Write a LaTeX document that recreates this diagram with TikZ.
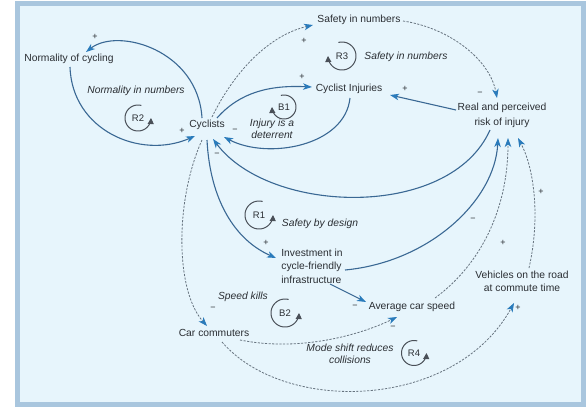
\documentclass[tikz,border=0pt]{standalone}
\usepackage{fontspec}
\setmainfont{Liberation Sans}
\usetikzlibrary{arrows.meta}

\definecolor{panel}{HTML}{E7F5FC}
\definecolor{rim}{HTML}{A9C6DE}
\definecolor{linkblue}{HTML}{3A6894}
\definecolor{tipblue}{HTML}{2A7BBB}
\definecolor{dashgrey}{HTML}{66737F}
\definecolor{loopgrey}{HTML}{4A5058}
\definecolor{ink}{HTML}{2A2E33}

\tikzset{
  lbl/.style={font=\fontsize{10.3}{13.5}\selectfont, text=ink, inner sep=1pt, align=center},
  note/.style={font=\fontsize{10.3}{11.7}\selectfont\itshape, text=ink, inner sep=1pt, align=center},
  sgn/.style={font=\fontsize{9}{9}\selectfont, text=ink, inner sep=0pt},
  looplbl/.style={font=\fontsize{9.5}{9.5}\selectfont, text=ink, inner sep=0pt},
  loopline/.style={draw=loopgrey, line width=1pt, -{Triangle[length=6pt,width=6pt,color=loopgrey]}},
  solidlink/.style={draw=linkblue, line width=1.1pt,
    -{Stealth[length=9pt,width=6.5pt,inset=2.5pt,color=tipblue]}},
  dashlink/.style={draw=dashgrey, line width=0.8pt, dash pattern=on 2.2pt off 1.4pt,
    -{Stealth[length=9pt,width=6.5pt,inset=2.5pt,color=tipblue]}},
}

% loop marker (y axis points down): anticlockwise on the page, arrow on the right pointing up
\newcommand{\loopright}[5]{%
  \node[looplbl] (#1) at (#2,#3) {#4};
  \draw[loopline] plot[domain=0:1, samples=40, smooth]
    ({#2+#5*cos(-75-285*\x)}, {#3+#5*sin(-75-285*\x)});}
% loop marker: clockwise on the page, arrow on the left pointing up
\newcommand{\loopleft}[5]{%
  \node[looplbl] (#1) at (#2,#3) {#4};
  \draw[loopline] plot[domain=0:1, samples=40, smooth]
    ({#2+#5*cos(-105+285*\x)}, {#3+#5*sin(-105+285*\x)});}

\begin{document}
\begin{tikzpicture}[x=1pt,y=-1pt]
\useasboundingbox (0,0) rectangle (586,407);
\fill[white] (0,0) rectangle (586,407);
\draw[rim, line width=5pt, fill=panel] (17.5,3.5) rectangle (583.5,404.5);

% variables
\node[lbl] (norm) at (69,59) {Normality of cycling};
\node[lbl] (cyc) at (207,125) {Cyclists};
\node[lbl] (sin) at (359,20) {Safety in numbers};
\node[lbl] (inj) at (349,89) {Cyclist Injuries};
\node[lbl] (risk) at (502,115.5) {Real and perceived\\[1pt]risk of injury};
\node[lbl, align=left] (inv) at (312,266) {Investment in\\cycle-friendly\\infrastructure};
\node[lbl] (avg) at (412,307) {Average car speed};
\node[lbl] (veh) at (522,281.5) {Vehicles on the road\\at commute time};
\node[lbl] (car) at (214,333) {Car commuters};

% loop names
\node[note] (nnum) at (136,91) {Normality in numbers};
\node[note] (snum) at (406,57) {Safety in numbers};
\node[note] (deter) at (272,129) {Injury is a\\deterrent};
\node[note] (design) at (320,224) {Safety by design};
\node[note] (kills) at (243,297) {Speed kills};
\node[note] (shift) at (350,353.5) {Mode shift reduces\\collisions};

% loop markers
\loopright{r2}{138}{118}{R2}{13}
\loopleft{b1}{284}{107}{B1}{12}
\loopleft{r3}{342}{56}{R3}{14}
\loopright{r1}{259}{215}{R1}{14}
\loopright{b2}{285}{313}{B2}{14}
\loopright{r4}{414}{353}{R4}{12.5}

% causal links
\draw[solidlink] ([shift={(-5,-7)}]cyc.center) .. controls (198,50) and (118,27) .. ([shift={(17,-7)}]norm.center);
\draw[solidlink] ([shift={(1,8)}]norm.center) .. controls (72,130) and (140,160) .. ([shift={(-12,11)}]cyc.center);
\draw[dashlink] ([shift={(5,-8)}]cyc.center) .. controls (235,70) and (270,35) .. ([shift={(-46,5)}]sin.center);
\draw[dashlink] ([shift={(44,1)}]sin.center) .. controls (450,28) and (490,60) .. ([shift={(-5,-17.5)}]risk.center);
\draw[solidlink] ([shift={(10,-7)}]cyc.center) .. controls (240,92) and (270,85) .. ([shift={(-37,-2)}]inj.center);
\draw[solidlink] ([shift={(1,9)}]inj.center) .. controls (345,146) and (268,160) .. ([shift={(17,12)}]cyc.center);
\draw[solidlink] ([shift={(-46,-5.5)}]risk.center) -- ([shift={(41,6)}]inj.center);
\draw[solidlink] ([shift={(-12,14.5)}]risk.center) .. controls (450,220) and (270,215) .. ([shift={(6,14)}]cyc.center);
\draw[solidlink] ([shift={(0,15)}]cyc.center) .. controls (210,200) and (235,240) .. ([shift={(-36,-8)}]inv.center);
\draw[solidlink] ([shift={(33,4)}]inv.center) .. controls (430,262) and (495,200) .. ([shift={(-4,22.5)}]risk.center);
\draw[solidlink] ([shift={(18,18)}]inv.center) -- ([shift={(-46,-5)}]avg.center);
\draw[dashlink] ([shift={(23,-9)}]avg.center) .. controls (480,265) and (508,210) .. ([shift={(6,22.5)}]risk.center);
\draw[dashlink] ([shift={(7,-13.5)}]veh.center) .. controls (540,220) and (535,170) .. ([shift={(16,22.5)}]risk.center);
\draw[dashlink] ([shift={(-5,15)}]cyc.center) .. controls (175,200) and (175,290) .. ([shift={(-7,-7)}]car.center);
\draw[dashlink] ([shift={(26,7)}]car.center) .. controls (300,352) and (360,335) .. ([shift={(-15,10)}]avg.center);
\draw[dashlink] ([shift={(8,9)}]car.center) .. controls (285,415) and (455,410) .. ([shift={(-8,21.5)}]veh.center);

% link polarities
\node[sgn] (s1) at (95,37) {+};
\node[sgn] (s2) at (182,131) {+};
\node[sgn] (s3) at (304,41) {+};
\node[sgn] (s4) at (480,94) {−};
\node[sgn] (s5) at (302,77) {+};
\node[sgn] (s6) at (235,131) {−};
\node[sgn] (s7) at (405,89) {+};
\node[sgn] (s8) at (217,155) {−};
\node[sgn] (s9) at (266,243) {+};
\node[sgn] (s10) at (473,220) {−};
\node[sgn] (s11) at (355,307) {−};
\node[sgn] (s12) at (503,243) {+};
\node[sgn] (s13) at (541,192) {+};
\node[sgn] (s14) at (213,309) {−};
\node[sgn] (s15) at (393,328) {−};
\node[sgn] (s16) at (518,308) {+};
\end{tikzpicture}
\end{document}
